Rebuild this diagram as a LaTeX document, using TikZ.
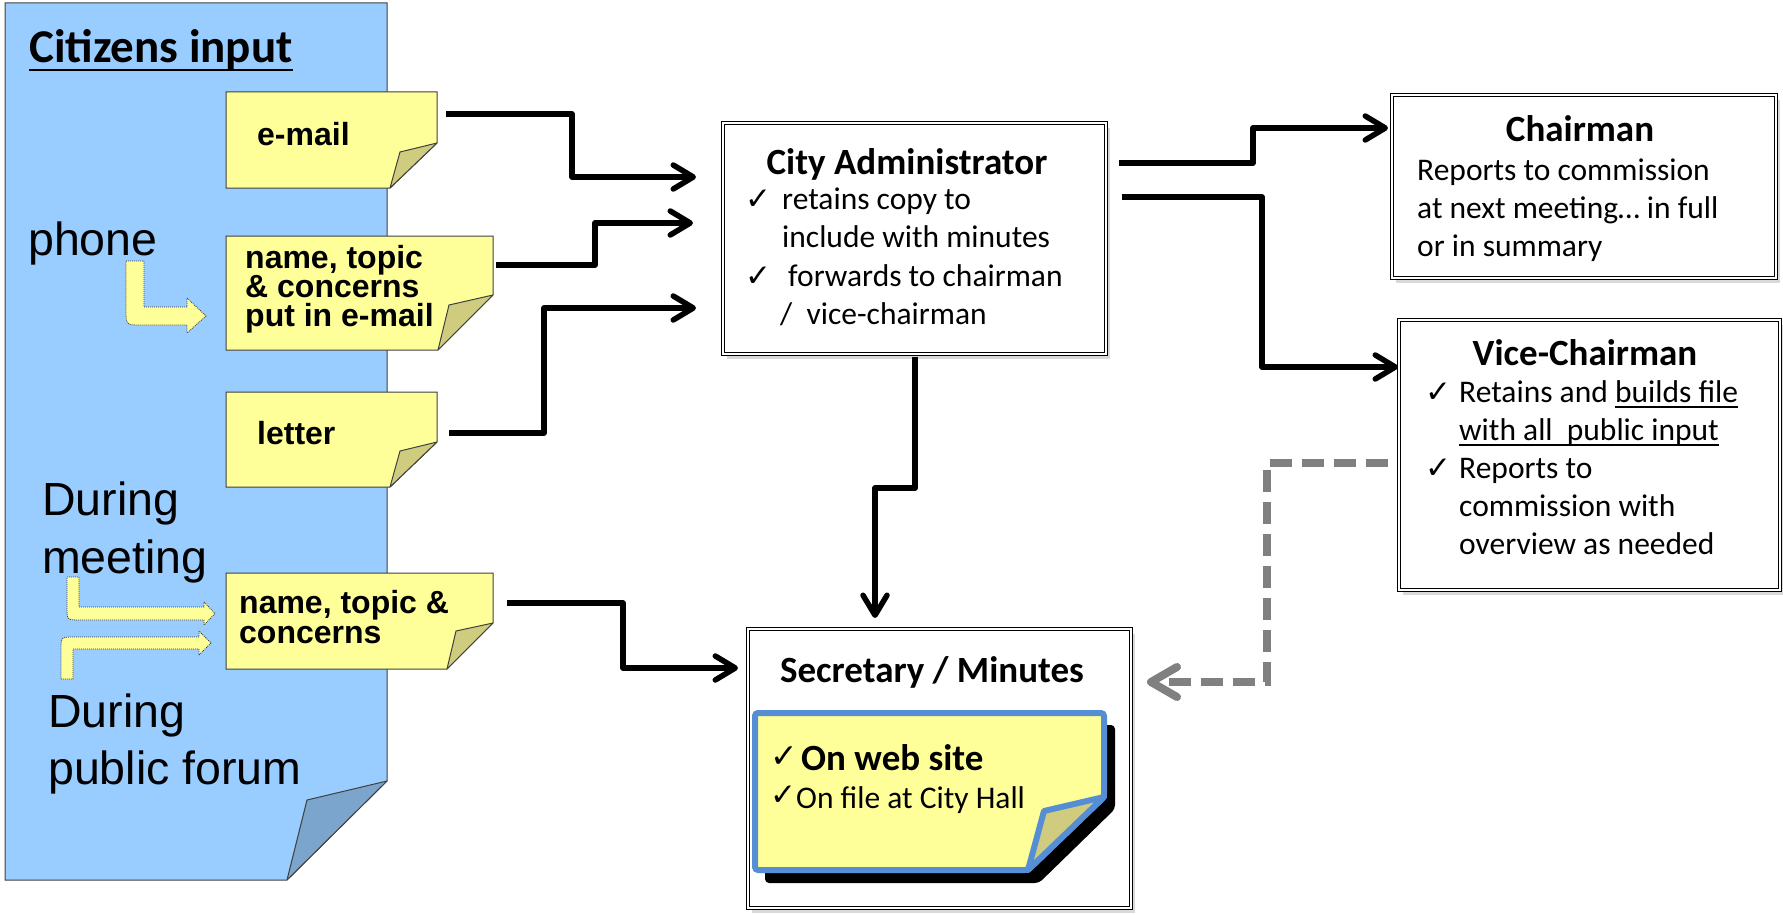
\documentclass[tikz,border=0pt]{standalone}
\usepackage{fontspec}
\setmainfont{Carlito}
\newfontfamily\arialf{Liberation Sans}
\newfontfamily\dvf{DejaVu Sans}
\usetikzlibrary{arrows.meta,shadows}
\definecolor{pageblue}{HTML}{99CCFF}
\definecolor{pageflap}{HTML}{7BA5CC}
\definecolor{noteY}{HTML}{FFFF99}
\definecolor{flapY}{HTML}{CFCB7F}
\definecolor{edgeG}{HTML}{404040}
\definecolor{blueB}{HTML}{558ED5}
\definecolor{dashG}{HTML}{808080}
\newcommand\myul[1]{\leavevmode\setbox0\hbox{#1}\rlap{\rule[-6pt]{\wd0}{1.6pt}}\box0}
\begin{document}
\begin{tikzpicture}[x=1pt,y=-1pt,
  pagebody/.style={fill=pageblue,draw=edgeG,line width=1pt},
  pagefold/.style={fill=pageflap,draw=edgeG,line width=1pt,line join=round},
  notebody/.style={fill=noteY,draw=edgeG,line width=1pt},
  notefold/.style={fill=flapY,draw=edgeG,line width=1pt,line join=round},
  bent/.style={fill=noteY,draw=black!75,line width=0.8pt,dash pattern=on 1pt off 1pt},
  atext/.style={inner sep=0,font=\arialf\bfseries\fontsize{32}{32}\selectfont},
  bigA/.style={inner sep=0,font=\arialf\fontsize{46.5}{46.5}\selectfont},
  body/.style={inner sep=0,font=\fontsize{31.5}{38}\selectfont},
  ttl/.style={inner sep=0,font=\bfseries\fontsize{37}{44}\selectfont},
  chk/.style={inner sep=0,font=\dvf\fontsize{31}{31}\selectfont},
  bigchk/.style={inner sep=0,font=\dvf\bfseries\fontsize{33}{33}\selectfont},
  box/.style={draw=black,line width=1.1pt,double=white,double distance=2pt,fill=white,
    drop shadow={shadow xshift=4pt,shadow yshift=-5pt,opacity=0.3},inner sep=0},
  arr/.style={line width=5.5pt,line join=round,-{Straight Barb[length=20pt,width=24pt,round]}},
  darr/.style={draw=dashG,line width=8pt,dash pattern=on 22pt off 10pt,
    -{Straight Barb[length=26pt,width=30pt,round]}}]
\useasboundingbox (0,0) rectangle (1783,915);

% citizens page
\draw[pagebody] (5,3) -- (387,3) -- (387,781) -- (287,880) -- (5,880) -- cycle;
\draw[pagefold] (387,781) -- (307,800) -- (287,880) -- cycle;
\node[inner sep=0,anchor=base west,font=\bfseries\fontsize{47}{47}\selectfont] (cit) at (29,63) {Citizens input};
\draw[line width=2.6pt] ([yshift=-7pt]cit.base west) -- ([yshift=-7pt]cit.base east);

% labels on page
\node[bigA,anchor=base west] (phone) at (28,255) {phone};
\node[bigA,anchor=base west] (dm1) at (42,515) {During};
\node[bigA,anchor=base west] (dm2) at (42,573) {meeting};
\node[bigA,anchor=base west] (dp1) at (48,727) {During};
\node[bigA,anchor=base west] (dp2) at (48,784) {public forum};

% bent yellow arrows
\draw[bent] (126,261) -- (144,261) -- (144,307) -- (187,307) -- (187,298) -- (206,316) -- (187,333) -- (187,325) -- (141,325) .. controls (126,325) .. (126,310) -- cycle;
\draw[bent] (67,577) -- (79,577) -- (79,607) -- (204,607) -- (204,602) -- (215,613.5) -- (204,625) -- (204,620) -- (80,620) .. controls (67,620) .. (67,607) -- cycle;
\draw[bent] (61,679) -- (73,679) -- (73,649) -- (199,649) -- (199,655) -- (211,643) -- (199,631) -- (199,637) -- (74,637) .. controls (61,637) .. (61,650) -- cycle;

% yellow notes
\draw[notebody] (226,92) -- (437,92) -- (437,143) -- (390,188) -- (226,188) -- cycle;
\draw[notefold] (437,143) -- (400,152) -- (390,188) -- cycle;
\draw[notebody] (226,236) -- (493,236) -- (493,295) -- (438,350) -- (226,350) -- cycle;
\draw[notefold] (493,295) -- (449,305) -- (438,350) -- cycle;
\draw[notebody] (226,392) -- (437,392) -- (437,442) -- (390,487) -- (226,487) -- cycle;
\draw[notefold] (437,442) -- (400,451) -- (390,487) -- cycle;
\draw[notebody] (226,573) -- (493,573) -- (493,623) -- (447,669) -- (226,669) -- cycle;
\draw[notefold] (493,623) -- (456,631) -- (447,669) -- cycle;

\node[atext,anchor=base west] (email) at (257,146) {e-mail};
\node[atext,anchor=base west] (pn1) at (245,268) {name, topic};
\node[atext,anchor=base west] (pn2) at (245,297) {\& concerns};
\node[atext,anchor=base west] (pn3) at (245,326) {put in e-mail};
\node[atext,anchor=base west] (letter) at (257,444) {letter};
\node[atext,anchor=base west] (mn1) at (239,613) {name, topic \&};
\node[atext,anchor=base west] (mn2) at (239,643) {concerns};

% boxes
\node[box,minimum width=383pt,minimum height=231pt] (ca) at (914.5,238.5) {};
\node[box,minimum width=384pt,minimum height=183pt] (chair) at (1584,186.5) {};
\node[box,minimum width=381pt,minimum height=270pt] (vice) at (1589.5,455) {};
\node[box,minimum width=383pt,minimum height=279pt] (sec) at (939.5,768.5) {};

% city administrator text
\node[ttl,anchor=base] (catitle) at (907,175) {City Administrator};
\node[chk,anchor=base west] at (745,209) {✓};
\node[body,anchor=base west] at (782,209) {retains copy to};
\node[body,anchor=base west] at (782,247) {include with minutes};
\node[chk,anchor=base west] at (745,286) {✓};
\node[body,anchor=base west] at (788,286) {forwards to chairman};
\node[body,anchor=base west] at (780,324) {/~~vice-chairman};

% chairman text
\node[ttl,anchor=base] (chtitle) at (1580,142) {Chairman};
\node[body,anchor=base west] at (1417,180) {Reports to commission};
\node[body,anchor=base west] at (1417,218) {at next meeting… in full};
\node[body,anchor=base west] at (1417,256) {or in summary};

% vice chairman text
\node[ttl,anchor=base] (vtitle) at (1585,365) {Vice-Chairman};
\node[chk,anchor=base west] at (1425,402) {✓};
\node[body,anchor=base west] at (1459,402) {Retains and \myul{builds file}};
\node[body,anchor=base west] at (1459,440) {\myul{with all~~public input}};
\node[chk,anchor=base west] at (1425,478) {✓};
\node[body,anchor=base west] at (1459,478) {Reports to};
\node[body,anchor=base west] at (1459,516) {commission with};
\node[body,anchor=base west] at (1459,554) {overview as needed};

% secretary
\node[ttl,anchor=base] (stitle) at (932,682) {Secretary / Minutes};
\fill[black,rounded corners=4pt] (765,725) -- (1115,725) -- (1115,809) -- (1039,883) -- (765,883) -- cycle;
\draw[line width=6pt,draw=blueB,fill=noteY,rounded corners=3pt] (755,713) -- (1104,713) -- (1104,797) -- (1028,870) -- (755,870) -- cycle;
\draw[line width=6pt,draw=blueB,fill=flapY,line join=round] (1104,797) -- (1044,811) -- (1028,870) -- cycle;
\node[bigchk,anchor=base west] at (770,767) {✓};
\node[ttl,anchor=base west] (web) at (801,770) {On web site};
\node[inner sep=0,anchor=base west,font=\dvf\fontsize{31}{31}\selectfont] at (770,805) {✓};
\node[body,anchor=base west] (hall) at (796,808) {On file at City Hall};

% connectors
\coordinate (a1s) at (446,114);  \coordinate (a1e) at (696,177);
\coordinate (a2s) at (496,265);  \coordinate (a2e) at (693,223);
\coordinate (a3s) at (449,433);  \coordinate (a3e) at (696,308);
\coordinate (a4s) at (507,603);  \coordinate (a4e) at (738,668);
\coordinate (a5s) at (915,357);  \coordinate (a5e) at (875,618);
\coordinate (a6s) at (1119,163); \coordinate (a6e) at (1388,128);
\coordinate (a7s) at (1122,197); \coordinate (a7e) at (1398,367);
\coordinate (ds) at (1388,463);  \coordinate (de) at (1147,682);

\draw[arr] (a1s) -- ++(126,0) |- (a1e);
\draw[arr] (a2s) -- ++(99,0) |- (a2e);
\draw[arr] (a3s) -- ++(95,0) |- (a3e);
\draw[arr] (a4s) -- ++(116,0) |- (a4e);
\draw[arr] (a5s) -- ++(0,131) -| (a5e);
\draw[arr] (a6s) -- ++(134,0) |- (a6e);
\draw[arr] (a7s) -- ++(140,0) |- (a7e);
\draw[darr] (ds) -- ++(-121,0) |- (de);
\end{tikzpicture}
\end{document}
